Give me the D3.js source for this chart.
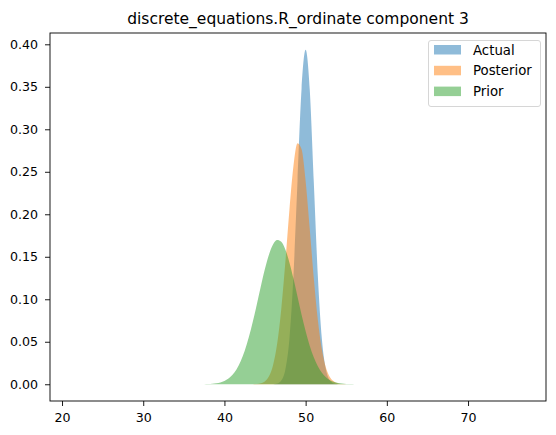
<!DOCTYPE html>
<html>
<head>
<meta charset="utf-8">
<script src="https://cdn.jsdelivr.net/npm/d3@7"></script>
<style>
  body { margin: 0; background: #fff; }
  text { font-family: "DejaVu Sans", sans-serif; fill: #000; }
</style>
</head>
<body>
<div id="chart"></div>
<script>
// x grid shared by the three densities
const xs = [36, 36.5, 37, 37.5, 38, 38.5, 39, 39.5, 40, 40.5, 41, 41.5, 42, 42.5, 43, 43.5, 44, 44.5,
  45, 45.5, 46, 46.5, 47, 47.5, 48, 48.5, 49, 49.5, 50, 50.5, 51, 51.5, 52, 52.5, 53, 53.5, 54, 54.5,
  55, 55.5, 56, 56.5, 57, 57.5, 58];

const actual = [0, 0, 0, 0, 0, 0, 0, 0, 0, 0, 0, 0, 0, 0, 0, 0, 0, 0,
  0, 0.00002, 0.00013, 0.00086, 0.00438, 0.0173, 0.0533, 0.1279, 0.239, 0.3477, 0.3936, 0.3477,
  0.239, 0.1279, 0.0533, 0.0173, 0.00438, 0.00086, 0.00013, 0.00002,
  0, 0, 0, 0, 0, 0, 0];

const posterior = [0, 0, 0, 0, 0, 0, 0, 0, 0, 0, 0, 0, 0, 0,
  0.00002, 0.00009, 0.0003, 0.0012, 0.0036, 0.0097, 0.023, 0.0482, 0.0886, 0.1435, 0.2046, 0.2567,
  0.2836, 0.2764, 0.239, 0.1836, 0.1252, 0.0758, 0.0408, 0.0194, 0.0082, 0.0031, 0.001, 0.0003, 0.0001,
  0, 0, 0, 0, 0, 0];

const prior = [0.00001, 0.00002, 0.00006, 0.00013, 0.00028, 0.00057, 0.00113, 0.00214, 0.00388, 0.00673,
  0.01117, 0.01778, 0.02708, 0.0395, 0.0552, 0.0738, 0.0945, 0.1159, 0.1361, 0.1531, 0.1648, 0.1698,
  0.1677, 0.1585, 0.1434, 0.1243, 0.1031, 0.0819, 0.0623, 0.0454, 0.0317, 0.0211, 0.0135, 0.0083,
  0.00486, 0.00273, 0.00147, 0.00075, 0.00037, 0.00018, 0.00008, 0.00003, 0.00001, 0, 0];

const seriesNames = ["Actual", "Posterior", "Prior"];
const xTicks = [20, 30, 40, 50, 60, 70];
const yTicks = [0, 0.05, 0.1, 0.15, 0.2, 0.25, 0.3, 0.35, 0.4];

var width = 556;
var height = 435;
const margin = { top: 33, right: 10, bottom: 34, left: 50 };
var colors = ["#1f77b4", "#ff7f0e", "#2ca02c"];

var svg = d3.select("#chart")
  .append("svg")
  .attr("width", width)
  .attr("height", height);

var x = d3.scaleLinear()
  .domain([18.52, 79.6])
  .range([margin.left, width - margin.right]);

var y = d3.scaleLinear()
  .domain([-0.0197, 0.4133])
  .range([height - margin.bottom, margin.top]);

var series = [actual, posterior, prior];

var area = d3.area()
  .x((d, i) => x(xs[i]))
  .y0(y(0))
  .y1(d => y(d))
  .curve(d3.curveMonotoneX);

svg.selectAll(".density")
  .data(series)
  .enter()
  .append("path")
  .classed("density", true)
  .attr("d", area)
  .attr("fill", (d, i) => colors[i])
  .attr("fill-opacity", 0.5);

// axes
var xAxis = svg.append("g")
  .attr("transform", `translate(0, ${height - margin.bottom})`)
  .call(d3.axisBottom(x).tickValues(xTicks).tickFormat(d3.format("d")).tickSize(5).tickPadding(7));

var yAxis = svg.append("g")
  .attr("transform", `translate(${margin.left}, 0)`)
  .call(d3.axisLeft(y).tickValues(yTicks).tickFormat(d3.format(".2f")).tickSize(5).tickPadding(7));

[xAxis, yAxis].forEach(g => {
  g.select(".domain").remove();
  g.selectAll("line").attr("stroke", "#000").attr("stroke-width", 0.9);
  g.selectAll("text")
    .style("font-size", "12.6px")
    .style("font-family", "DejaVu Sans");
});

// frame
svg.append("rect")
  .attr("x", margin.left)
  .attr("y", margin.top)
  .attr("width", width - margin.right - margin.left)
  .attr("height", height - margin.bottom - margin.top)
  .attr("fill", "none")
  .attr("stroke", "#000")
  .attr("stroke-width", 0.9);

svg.append("text")
  .attr("x", (margin.left + width - margin.right) / 2)
  .attr("y", 24)
  .style("font-size", "15.5px")
  .style("text-anchor", "middle")
  .text("discrete_equations.R_ordinate component 3");

// legend
var legend = svg.append("g").attr("transform", "translate(428, 40)");

legend.append("rect")
  .attr("x", 0.5)
  .attr("y", 0.5)
  .attr("width", 112)
  .attr("height", 66)
  .attr("rx", 2.5)
  .attr("fill", "#fff")
  .attr("fill-opacity", 0.8)
  .attr("stroke", "#d6d6d6");

var rows = legend.selectAll(".row")
  .data(seriesNames)
  .enter()
  .append("g")
  .attr("transform", (d, i) => `translate(6, ${5 + i * 20.8})`);

rows.append("rect")
  .attr("width", 27)
  .attr("height", 9.5)
  .attr("fill", (d, i) => colors[i])
  .attr("fill-opacity", 0.5);

rows.append("text")
  .attr("x", 39)
  .attr("y", 9.5)
  .style("font-size", "13.3px")
  .text(d => d);
</script>
</body>
</html>
